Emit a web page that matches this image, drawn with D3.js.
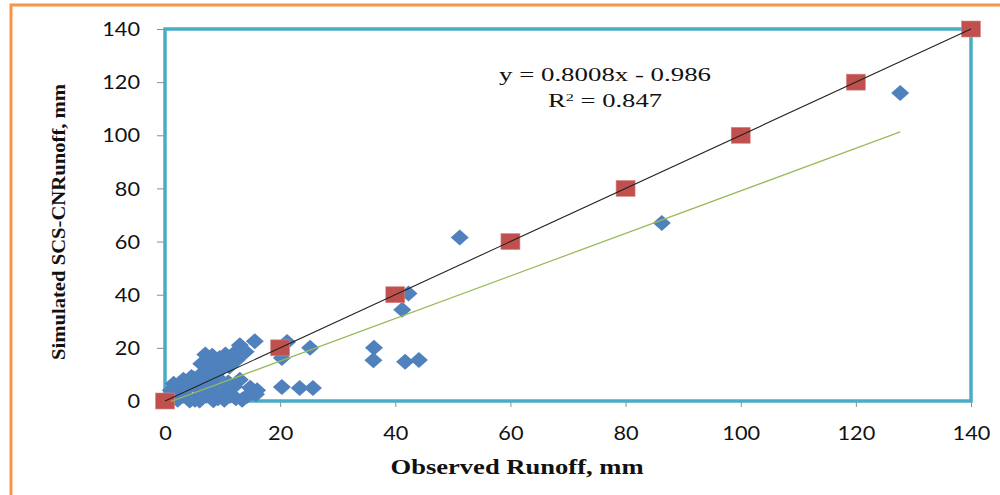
<!DOCTYPE html>
<html>
<head>
<meta charset="utf-8">
<script src="https://cdn.jsdelivr.net/npm/d3@7"></script>
<style>
  body { margin: 0; background: #fff; }
  svg { display: block; }
</style>
</head>
<body>
<div id="chart"></div>
<script>
// observed vs simulated runoff (mm)
const observed = [127.7, 86.3, 51.2, 42.3, 41.2, 36.3, 36.2, 41.7, 44.1,
  15.6, 21.2, 25.2, 20.3, 20.3, 23.4, 25.7,
  13.0, 12.3, 7.0, 8.5, 9.5, 10.5, 11.5, 14.0, 12.5, 10.0, 8.0, 6.2, 5.0, 4.0, 3.0, 2.0, 1.0, 1.5,
  2.5, 3.2, 4.2, 5.2, 6.2, 7.2, 8.3, 9.2, 10.3, 11.3, 12.3, 13.4, 14.3, 15.2, 16.0,
  13.0, 11.0, 9.0, 7.3, 5.5, 3.6, 6.0, 4.3, 2.2, 8.4, 15.8, 12.0, 7.5, 9.8, 14.8, 1.2,
  6.3, 7.4, 9.0, 8.2, 10.4, 11.2, 6.6, 8.6, 10.6, 3.2, 4.6, 6.8];
const simulated = [115.9, 67.0, 61.5, 40.5, 34.3, 20.0, 15.3, 14.8, 15.4,
  22.5, 22.2, 20.0, 16.2, 5.3, 4.9, 4.9,
  21.0, 18.5, 17.5, 15.5, 16.2, 17.5, 15.0, 18.5, 15.5, 12.5, 11.5, 10.0, 8.5, 7.0, 6.0, 5.0, 4.0, 6.5,
  3.0, 2.0, 1.0, 0.5, 1.0, 2.0, 3.0, 1.0, 0.5, 2.0, 1.0, 0.5, 2.0, 3.0, 4.0,
  8.0, 7.0, 9.0, 7.0, 5.0, 4.0, 0.2, 0.2, 0.5, 0.3, 2.5, 5.5, 13.5, 14.0, 5.0, 0.8,
  14.0, 12.0, 14.5, 17.0, 15.0, 13.0, 4.0, 6.0, 4.0, 8.0, 9.0, 3.5];
const refLine = [0, 20, 40, 60, 80, 100, 120, 140];
const slope = 0.8008, intercept = -0.986;
const xTicks = [0, 20, 40, 60, 80, 100, 120, 140];
const yTicks = [0, 20, 40, 60, 80, 100, 120, 140];
const eqText = "y = 0.8008x - 0.986";

const W = 1000, H = 495;
const MARGIN = { LEFT: 165, RIGHT: 29, TOP: 29, BOTTOM: 94 };
const width = W - MARGIN.LEFT - MARGIN.RIGHT;
const height = H - MARGIN.TOP - MARGIN.BOTTOM;

const svg = d3.select("#chart").append("svg")
  .attr("width", W)
  .attr("height", H);

// outer orange frame (runs off the right and bottom edge)
svg.append("rect")
  .attr("x", 11).attr("y", 5)
  .attr("width", W + 20).attr("height", H + 20)
  .attr("fill", "none")
  .attr("stroke", "#F79646")
  .attr("stroke-width", 3);

const g = svg.append("g")
  .attr("transform", `translate(${MARGIN.LEFT}, ${MARGIN.TOP})`);

const x = d3.scaleLinear().domain([0, 140]).range([0, width]);
const y = d3.scaleLinear().domain([0, 140]).range([height, 0]);

// axes
const xAxis = g.append("g")
  .attr("transform", `translate(0, ${height})`)
  .call(d3.axisBottom(x).tickValues(xTicks).tickSize(6).tickPadding(20));
const yAxis = g.append("g")
  .call(d3.axisLeft(y).tickValues(yTicks).tickSize(8).tickPadding(17));

[xAxis, yAxis].forEach(ax => {
  ax.select(".domain").attr("stroke", "#8c8c8c");
  ax.selectAll(".tick line").attr("stroke", "#8c8c8c");
  ax.selectAll(".tick text")
    .attr("fill", "#111")
    .attr("font-family", "Lato, 'Open Sans', sans-serif")
    .attr("font-size", "18.5px")
    .attr("textLength", d => String(d).length * 12.6)
    .attr("lengthAdjust", "spacingAndGlyphs");
});
yAxis.selectAll(".tick text").attr("dy", "0.36em");

// plot area border
g.append("rect")
  .attr("x", 0).attr("y", 0)
  .attr("width", width).attr("height", height)
  .attr("fill", "none")
  .attr("stroke", "#4BACC6")
  .attr("stroke-width", 3.5);

const obsData = observed.map((d, i) => ({ x: d, y: simulated[i] }));

// blue diamonds
g.selectAll(".obs")
  .data(obsData)
  .enter()
  .append("path")
  .attr("class", "obs")
  .attr("d", "M0,-8L9,0L0,8L-9,0Z")
  .attr("transform", d => `translate(${x(d.x)}, ${y(d.y)})`)
  .attr("fill", "#4F81BD");

// red squares on the 1:1 line
g.selectAll(".ref")
  .data(refLine)
  .enter()
  .append("rect")
  .attr("class", "ref")
  .attr("x", d => x(d) - 9.5)
  .attr("y", d => y(d) - 8)
  .attr("width", 19)
  .attr("height", 16)
  .attr("fill", "#C0504D")
  .attr("stroke", "#d98a88")
  .attr("stroke-width", 0.6);

// 1:1 line
g.append("line")
  .attr("x1", x(0)).attr("y1", y(0))
  .attr("x2", x(140)).attr("y2", y(140))
  .attr("stroke", "#222")
  .attr("stroke-width", 1.1);

// linear trendline over the observed range
const xMin = d3.min(observed), xMax = d3.max(observed);
g.append("line")
  .attr("x1", x(xMin)).attr("y1", y(slope * xMin + intercept))
  .attr("x2", x(xMax)).attr("y2", y(slope * xMax + intercept))
  .attr("stroke", "#9BBB59")
  .attr("stroke-width", 1.3);

// equation
svg.append("text")
  .attr("x", 605).attr("y", 81)
  .attr("text-anchor", "middle")
  .attr("font-family", "'Liberation Serif', 'Times New Roman', serif")
  .attr("font-size", "18px")
  .attr("fill", "#111")
  .attr("textLength", 212)
  .attr("lengthAdjust", "spacingAndGlyphs")
  .text(eqText);

const r2 = svg.append("text")
  .attr("x", 605).attr("y", 107)
  .attr("text-anchor", "middle")
  .attr("font-family", "'Liberation Serif', 'Times New Roman', serif")
  .attr("font-size", "18px")
  .attr("fill", "#111")
  .attr("textLength", 114)
  .attr("lengthAdjust", "spacingAndGlyphs");
r2.append("tspan").text("R");
r2.append("tspan").attr("font-size", "11px").attr("dy", "-6").text("2");
r2.append("tspan").attr("dy", "6").text(" = 0.847");

// axis titles
svg.append("text")
  .attr("x", 517).attr("y", 474)
  .attr("text-anchor", "middle")
  .attr("font-family", "'Liberation Serif', 'Times New Roman', serif")
  .attr("font-weight", "bold")
  .attr("font-size", "20px")
  .attr("fill", "#111")
  .attr("textLength", 253)
  .attr("lengthAdjust", "spacingAndGlyphs")
  .text("Observed Runoff, mm");

svg.append("text")
  .attr("transform", "translate(65, 222) rotate(-90)")
  .attr("text-anchor", "middle")
  .attr("font-family", "'Liberation Serif', 'Times New Roman', serif")
  .attr("font-weight", "bold")
  .attr("font-size", "19px")
  .attr("fill", "#111")
  .attr("textLength", 276)
  .attr("lengthAdjust", "spacingAndGlyphs")
  .text("Simulated SCS-CNRunoff, mm");
</script>
</body>
</html>
